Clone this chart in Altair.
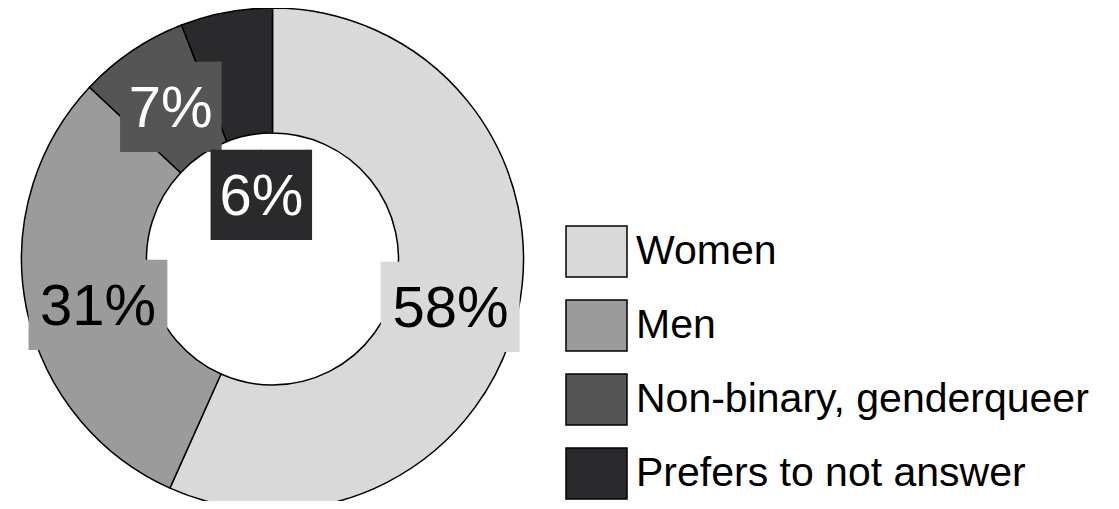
import altair as alt
import pandas as pd

categories = ["Women", "Men", "Non-binary, genderqueer", "Prefers to not answer"]
values = [56.7, 30.3, 7.1, 5.9]
labels = ["58%", "31%", "7%", "6%"]
colors = ["#d9d9d9", "#9b9b9b", "#555555", "#2a2a2c"]
text_colors = ["black", "black", "white", "white"]

df = pd.DataFrame({
    "category": categories,
    "value": values,
    "label": labels,
    "idx": list(range(len(categories))),
    "tcolor": text_colors,
})

CX, CY = 264.5, 251
FULL3 = "\u2588\u2588\u2588"
FULL2 = "\u2595\u2588\u2588\u258f"

base = alt.Chart(df).encode(
    theta=alt.Theta("value:Q", stack=True),
    order=alt.Order("idx:Q"),
    x=alt.value(CX),
    y=alt.value(CY),
)

color_scale = alt.Scale(domain=categories, range=colors)

arcs = base.mark_arc(outerRadius=251, innerRadius=126, stroke="black", strokeWidth=1.5).encode(
    color=alt.Color(
        "category:N",
        scale=color_scale,
        sort=categories,
        legend=alt.Legend(
            title=None,
            orient="none",
            legendX=557,
            legendY=212,
            symbolType="M-1,-0.836H1V0.836H-1Z",
            symbolSize=3721,
            symbolStrokeColor="black",
            symbolStrokeWidth=1.5,
            symbolOpacity=1,
            labelFont="Liberation Sans",
            labelFontSize=41,
            labelColor="black",
            labelLimit=800,
            labelOffset=8,
            rowPadding=14,
        ),
    )
)


def label_layer(sel_expr, radius, dx, dy):
    # box glyph and text for the rows matching sel_expr; others get empty text
    b = base.transform_calculate(
        boxtxt=f"({sel_expr}) ? (datum.idx >= 2 ? '{FULL2}' : '{FULL3}') : ''",
        lbl=f"({sel_expr}) ? datum.label : ''",
    )
    bx = b.mark_text(font="DejaVu Sans Mono", fontSize=76, baseline="middle", align="center", dx=dx, dy=dy).encode(
        text="boxtxt:N",
        radius=alt.value(radius),
        color=alt.Color("category:N", scale=color_scale, legend=None),
    )
    tx = b.mark_text(font="Liberation Sans", fontSize=58, baseline="middle", align="center", dx=dx, dy=dy).encode(
        text="lbl:N",
        radius=alt.value(radius),
        color=alt.Color("tcolor:N", scale=None),
    )
    return [bx, tx]


layers = [arcs]
layers += label_layer("datum.idx == 0", 182, 0, 13)
layers += label_layer("datum.idx == 1", 182, 4, 13)
layers += label_layer("datum.idx == 2", 182, 0, 2)
layers += label_layer("datum.idx == 3", 66, 1, 4)

chart = alt.layer(*layers).properties(
    width=1103, height=493, autosize=alt.AutoSizeParams(type="none"), padding=0
).configure_view(stroke=None)

chart.save("out.html", embed_options={"renderer": "svg", "actions": False})
